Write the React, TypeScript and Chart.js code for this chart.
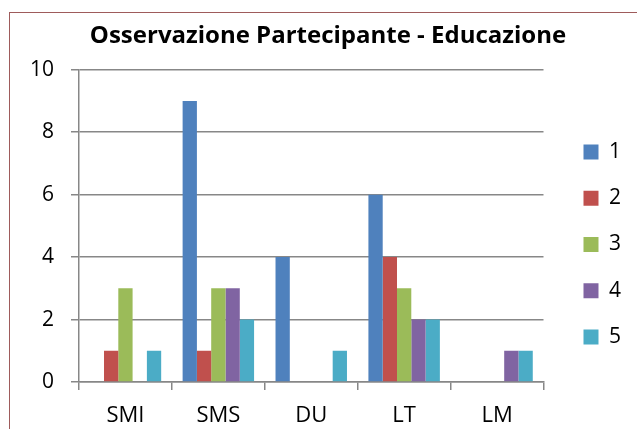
import React, { useEffect, useRef } from "react";
import { Chart, registerables } from "chart.js";

Chart.register(...registerables);

const categories = ["SMI", "SMS", "DU", "LT", "LM"];
const seriesLabels = ["1", "2", "3", "4", "5"];
const series1 = [0, 9, 4, 6, 0];
const series2 = [1, 1, 0, 4, 0];
const series3 = [3, 3, 0, 3, 0];
const series4 = [0, 3, 0, 2, 1];
const series5 = [1, 2, 1, 2, 1];
const seriesColors = ["#4F81BD", "#C0504D", "#9BBB59", "#8064A2", "#4BACC6"];
const titleText = "Osservazione Partecipante - Educazione";

const FONT = "'Open Sans', sans-serif";

const borderPlugin = {
  id: "outerBorder",
  beforeDraw(chart: any) {
    const ctx = chart.ctx;
    ctx.save();
    ctx.fillStyle = "#ffffff";
    ctx.fillRect(0, 0, chart.width, chart.height);
    ctx.strokeStyle = "#9E5B5B";
    ctx.lineWidth = 1;
    ctx.strokeRect(9.5, 12.5, 1000, 1000);
    ctx.restore();
  },
};

export default function App() {
  const ref = useRef<HTMLCanvasElement | null>(null);
  useEffect(() => {
    if (!ref.current) return;
    const all = [series1, series2, series3, series4, series5];
    const chart = new Chart(ref.current, {
      type: "bar",
      data: {
        labels: categories,
        datasets: all.map((d, i) => ({
          label: seriesLabels[i],
          data: d,
          backgroundColor: seriesColors[i],
          borderWidth: 0,
          categoryPercentage: 5 / 6.5,
          barPercentage: 1,
        })),
      },
      options: {
        responsive: false,
        animation: false,
        devicePixelRatio: 1,
        layout: { padding: { left: 25, top: 0, bottom: 0, right: 25 } },
        plugins: {
          title: {
            display: true,
            text: titleText,
            color: "#000",
            font: { family: FONT, size: 24, weight: "bold" },
            padding: { top: 22, bottom: 19 },
          },
          legend: {
            position: "right",
            labels: {
              color: "#000",
              font: { family: FONT, size: 21 },
              boxWidth: 15,
              boxHeight: 15,
              padding: 25.3,
            },
          },
          tooltip: { enabled: false },
        },
        scales: {
          x: {
            grid: {
              display: true,
              drawOnChartArea: false,
              drawTicks: true,
              tickLength: 8,
              color: "#878787",
              lineWidth: 1.5,
              offset: true,
            },
            border: { color: "#878787", width: 1.5 },
            ticks: { color: "#000", font: { family: FONT, size: 22 }, padding: 13 },
            afterFit: (s: any) => {
              s.height = 107;
            },
          },
          y: {
            min: 0,
            max: 10,
            ticks: { stepSize: 2, color: "#000", font: { family: FONT, size: 21 }, padding: 17 },
            grid: { color: "#878787", lineWidth: 1.5, tickLength: 8 },
            border: { color: "#878787", width: 1.5 },
            afterFit: (s: any) => {
              s.width = 54;
            },
          },
          y2: {
            position: "right",
            display: true,
            ticks: { display: false },
            grid: { display: false },
            border: { display: false },
            afterFit: (s: any) => {
              s.width = 14.7;
            },
          },
        },
      },
      plugins: [borderPlugin],
    });
    return () => chart.destroy();
  }, []);
  return (
    <div
      style={{
        position: "fixed",
        left: 0,
        top: 0,
        width: 637,
        height: 429,
        overflow: "hidden",
        background: "#fff",
      }}
    >
      <canvas ref={ref} width={656} height={489} style={{ display: "block" }} />
    </div>
  );
}
